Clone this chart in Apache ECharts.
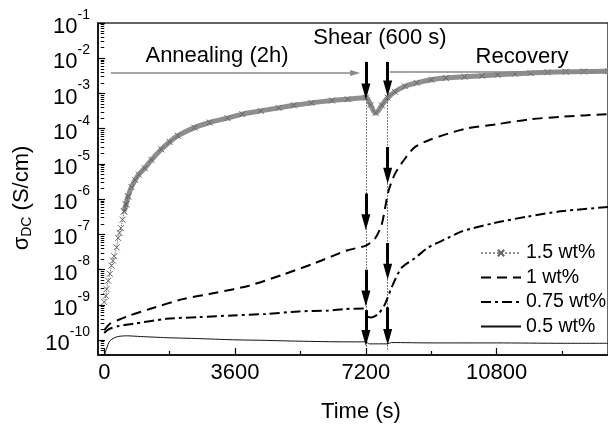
<!DOCTYPE html>
<html><head><meta charset="utf-8">
<script src="https://cdn.jsdelivr.net/npm/echarts/dist/echarts.min.js"></script>
<style>html,body{margin:0;padding:0;background:#fff}#c{width:608px;height:428px}</style>
</head><body><div id="c"></div>
<script>
const FONT = '"Liberation Sans", Arial, Helvetica, sans-serif';

// ---- data: time (s) and DC conductivity (S/cm) ----
const time15 = [0,45,65,110,156,200,240,274,340,383,420,457,503,547,600,657,750,850,950,1114,1300,1570,1800,2025,2481,2900,3393,3800,4306,4800,5218,5700,6266,6700,7200,7330,7470,7640,7800,8000,8274,8600,9000,9400,9915,10400,10826,11300,11730,12200,12700,13200,13864];
const sigma15 = [1.2e-9,1.8e-9,2.8e-9,4.8e-9,7.6e-9,1.3e-8,1.8e-8,2.4e-8,4.3e-8,7.9e-8,1.1e-7,1.5e-7,2.6e-7,4.5e-7,7.1e-7,1.2e-6,2.2e-6,3.5e-6,5.0e-6,7.6e-6,1.3e-5,2.6e-5,4.2e-5,6.3e-5,1.07e-4,1.5e-4,2.0e-4,2.6e-4,3.2e-4,3.9e-4,4.6e-4,5.4e-4,6.3e-4,6.9e-4,7.6e-4,4.7e-4,2.8e-4,4.6e-4,7.6e-4,1.12e-3,1.6e-3,2.0e-3,2.45e-3,2.75e-3,3.0e-3,3.2e-3,3.4e-3,3.6e-3,3.8e-3,4.0e-3,4.1e-3,4.2e-3,4.3e-3];

const time10 = [0,156,383,703,1250,2162,3075,3987,4899,5811,6677,7200,7450,7634,7817,8000,8274,8548,9000,9915,10826,11738,12650,13864];
const sigma10 = [1.9e-10,2.9e-10,3.7e-10,5.0e-10,7.6e-10,1.45e-9,2.2e-9,3.5e-9,7.1e-9,1.55e-8,3.5e-8,4.8e-8,7.6e-8,1.86e-7,1.6e-6,5.2e-6,1.4e-5,3.0e-5,5.0e-5,9.8e-5,1.35e-4,1.86e-4,2.2e-4,2.6e-4];

const time075 = [0,156,400,793,1707,2618,3530,4443,5354,6175,6632,7200,7230,7350,7543,7726,7908,8181,8548,8911,9459,9823,10736,11647,12558,13864];
const sigma075 = [1.6e-10,2.1e-10,2.5e-10,2.9e-10,4.0e-10,4.5e-10,5.0e-10,5.5e-10,6.5e-10,6.9e-10,7.6e-10,7.9e-10,4.7e-10,4.4e-10,5.5e-10,1.05e-9,3.1e-9,1.12e-8,2.1e-8,4.2e-8,7.9e-8,1.2e-7,2.1e-7,3.2e-7,4.5e-7,6.0e-7];

const time05 = [0,60,156,339,613,1000,1707,2600,3530,4443,5354,6677,7200,7300,7800,7900,9000,10800,12600,13864];
const sigma05 = [3.5e-11,5.6e-11,9.5e-11,1.23e-10,1.32e-10,1.26e-10,1.17e-10,1.1e-10,1.02e-10,9.8e-11,9.3e-11,8.9e-11,8.9e-11,7.8e-11,7.8e-11,8.5e-11,8.3e-11,8.3e-11,8.1e-11,8.1e-11];

const seriesNames = ['1.5 wt%','1 wt%','0.75 wt%','0.5 wt%'];

// ---- axes ----
const xMajorTicks = [0,3600,7200,10800];
const xMinorTicks = [1800,5400,9000,12600];
const yDecades = [-10,-9,-8,-7,-6,-5,-4,-3,-2,-1];
const X_MIN = -172, X_MAX = 13864;
const Y_MIN = -10.424, Y_MAX = -1;

// ---- annotations (time s, log10 sigma) ----
const shearStart = 7200, shearEnd = 7800;
const arrowTimes = [7200,7800,7800,7200,7800,7200,7800,7200];
const arrowFrom  = [-2.104,-2.104,-4.52,-5.84,-7.244,-8.003,-9.07,-9.154];
const arrowTo    = [-2.947,-2.862,-5.334,-6.654,-8.059,-8.817,-9.913,-9.941];
const guideTop = -3.17, guideBottom = -10.264;
const annealLine = {from:183, to:6906, level:-2.421};
const recoveryLine = {from:7863, to:13864, level:-2.376};

const pts = (t, s) => t.map((x, i) => [x, Math.log10(s[i])]);
const p15 = pts(time15, sigma15);
const bandStart = time15.indexOf(547);
const p15early = p15.slice(0, bandStart + 3);
const p15band = p15.slice(bandStart);

const minorY = [];
for (let n = -11; n <= -2; n++) for (let k = 2; k <= 9; k++) {
  const v = n + Math.log10(k);
  if (v > Y_MIN && v < Y_MAX) minorY.push(v);
}

const cross = 'path://M0,0L10,10M0,10L10,0';
const black = '#000';
const hidden = {color:'rgba(0,0,0,0)', borderColor:'rgba(0,0,0,0)', borderWidth:0};

const chart = echarts.init(document.getElementById('c'), null, {renderer:'canvas'});
chart.setOption({
  animation:false,
  backgroundColor:'#fff',
  textStyle:{fontFamily:FONT},
  grid:{left:98, right:-3, top:23, bottom:69.5, show:true, borderColor:'#333', borderWidth:1.5, backgroundColor:'transparent'},
  xAxis:[{
    type:'value', min:X_MIN, max:X_MAX, position:'bottom',
    axisLine:{show:true, onZero:false, lineStyle:{color:black, width:1.5}},
    axisTick:{show:true, inside:true, length:7, customValues:xMajorTicks, lineStyle:{color:black, width:1.2}},
    axisLabel:{customValues:xMajorTicks, margin:7, fontSize:22, color:black, fontFamily:FONT, formatter: v => String(v)},
    splitLine:{show:false},
    name:'Time (s)', nameLocation:'middle', nameGap:46,
    nameTextStyle:{fontSize:22, color:black, fontFamily:FONT, padding:[0,0,0,16]}
  },{
    type:'value', min:X_MIN, max:X_MAX, position:'bottom',
    axisLine:{show:false},
    axisTick:{show:true, inside:true, length:4, customValues:xMinorTicks, lineStyle:{color:black, width:1.2}},
    axisLabel:{show:false}, splitLine:{show:false}
  }],
  yAxis:[{
    type:'value', min:Y_MIN, max:Y_MAX,
    axisLine:{show:true, onZero:false, lineStyle:{color:black, width:1.5}},
    axisTick:{show:true, inside:true, length:7, customValues:yDecades, lineStyle:{color:black, width:1.2}},
    axisLabel:{
      customValues:yDecades, margin:8, color:black,
      formatter: v => '{b|10}{s|' + Math.round(v) + '}',
      rich:{
        b:{fontSize:22, fontFamily:FONT, color:black, padding:[8,0,0,0]},
        s:{fontSize:14, fontFamily:FONT, color:black, verticalAlign:'top'}
      }
    },
    splitLine:{show:false},
    name:'{g|σ}{d|DC}{g| (S/cm)}', nameLocation:'middle', nameRotate:90, nameGap:62,
    nameTextStyle:{
      color:black, padding:[0,18,0,0],
      rich:{
        g:{fontSize:22, fontFamily:FONT, color:black},
        d:{fontSize:14, fontFamily:FONT, color:black, verticalAlign:'bottom', padding:[10,0,0,0]}
      }
    }
  },{
    type:'value', min:Y_MIN, max:Y_MAX,
    axisLine:{show:false},
    axisTick:{show:true, inside:true, length:3.5, customValues:minorY, lineStyle:{color:black, width:1}},
    axisLabel:{show:false}, splitLine:{show:false}
  }],
  legend:{
    orient:'vertical', left:475, top:238, itemWidth:40, itemHeight:8, itemGap:4.5,
    textStyle:{fontSize:19.5, color:black, fontFamily:FONT},
    data:[
      {name:seriesNames[0], lineStyle:{color:'#222', width:1, type:[2,2]}},
      {name:seriesNames[1], itemStyle:hidden},
      {name:seriesNames[2], itemStyle:hidden},
      {name:seriesNames[3], itemStyle:hidden}
    ]
  },
  series:[
    {
      name:seriesNames[0], type:'line', data:p15early, smooth:0.3,
      symbol:cross, symbolSize:6, showAllSymbol:true,
      lineStyle:{type:'dotted', width:1, color:'#555'},
      itemStyle:{color:'#666', borderColor:'#666', borderWidth:1},
      silent:true, z:3,
      markLine:{
        silent:true, symbol:['none','triangle'], symbolSize:[9,16],
        label:{show:false},
        lineStyle:{color:black, width:3, type:'solid'},
        data: arrowTimes.map((t,i) => [{coord:[t, arrowFrom[i]]},{coord:[t, arrowTo[i]]}])
      }
    },
    {
      name:seriesNames[0], type:'line', data:p15band, smooth:0.4,
      symbol:cross, symbolSize:6, showAllSymbol:true,
      lineStyle:{type:'solid', width:5, color:'#8e8e8e'},
      itemStyle:{color:'#666', borderColor:'#666', borderWidth:1},
      silent:true, z:2
    },
    {
      name:seriesNames[1], type:'line', data:pts(time10, sigma10), smooth:0.25,
      symbol:'none', lineStyle:{type:[10,6], width:2, color:black},
      itemStyle:{color:black}, silent:true,
      markLine:{
        silent:true, symbol:['none','triangle'], symbolSize:[6,10],
        label:{show:false},
        lineStyle:{color:'#888', width:1.5, type:'solid'},
        data:[
          [{coord:[annealLine.from, annealLine.level]},{coord:[annealLine.to, annealLine.level]}],
          [{coord:[recoveryLine.from, recoveryLine.level], symbol:'none'},{coord:[recoveryLine.to, recoveryLine.level], symbol:'none'}]
        ]
      }
    },
    {
      name:seriesNames[2], type:'line', data:pts(time075, sigma075), smooth:0.25,
      symbol:'none', lineStyle:{type:[10,4,3,4], width:2, color:black},
      itemStyle:{color:black}, silent:true,
      markLine:{
        silent:true, symbol:['none','none'],
        label:{show:false},
        lineStyle:{color:black, width:1, type:[1,2]},
        data:[
          [{coord:[shearStart, guideTop]},{coord:[shearStart, guideBottom]}],
          [{coord:[shearEnd, guideTop]},{coord:[shearEnd, guideBottom]}]
        ]
      }
    },
    {
      name:seriesNames[3], type:'line', data:pts(time05, sigma05), smooth:0.25,
      symbol:'none', lineStyle:{type:'solid', width:1, color:'#111'},
      itemStyle:{color:'#111'}, silent:true
    }
  ],
  graphic:[
    {type:'text', x:217, y:56, style:{text:'Annealing (2h)', font:'22px ' + FONT, fill:black, align:'center', verticalAlign:'middle'}},
    {type:'text', x:380, y:38, style:{text:'Shear (600 s)', font:'22px ' + FONT, fill:black, align:'center', verticalAlign:'middle'}},
    {type:'text', x:522, y:57, style:{text:'Recovery', font:'22px ' + FONT, fill:black, align:'center', verticalAlign:'middle'}}
  ]
});
</script>
</body></html>
